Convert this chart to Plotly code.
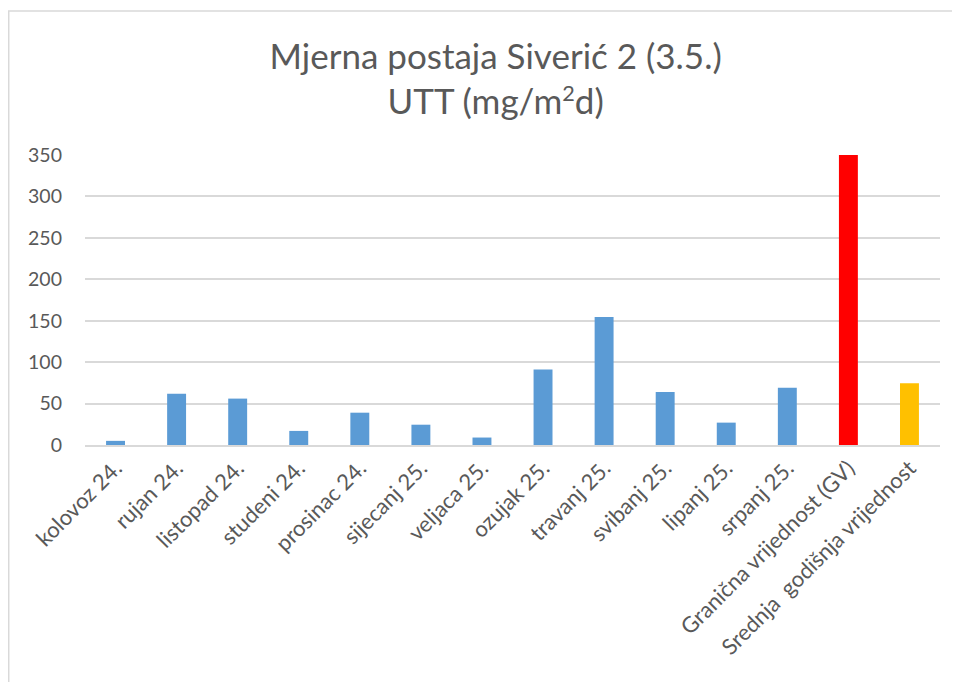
import plotly.graph_objects as go

categories = ["kolovoz 24.", "rujan 24.", "listopad 24.", "studeni 24.", "prosinac 24.",
              "sijecanj 25.", "veljaca 25.", "ozujak 25.", "travanj 25.", "svibanj 25.",
              "lipanj 25.", "srpanj 25.", "Granična vrijednost (GV)", "Srednja  godišnja vrijednost"]
values = [5, 62, 56, 17, 39, 24.5, 9, 91, 154.5, 64, 27, 69, 350, 74.5]
bar_colors = ["#5B9BD5"] * 12 + ["#FF0000", "#FFC000"]
y_ticks = [0, 50, 100, 150, 200, 250, 300, 350]

fig = go.Figure(go.Bar(x=categories, y=values, marker=dict(color=bar_colors, line=dict(width=0)),
                       width=0.31))

fig.update_layout(
    width=960, height=682,
    margin=dict(l=77, r=28, t=147, b=245),
    paper_bgcolor="white", plot_bgcolor="white",
    font=dict(family="Lato, Calibri, sans-serif", color="#595959"),
    title=dict(text="Mjerna postaja Siverić 2 (3.5.)<br>UTT (mg/m<span style='font-size:31px'><sup>2</sup></span>d)",
               x=0.508, xanchor="center", y=0.911, yanchor="middle",
               font=dict(size=35, color="#595959", family="Lato, sans-serif")),
    showlegend=False,
    bargap=0.69,
)
fig.update_xaxes(tickangle=-45, tickfont=dict(size=22, color="#595959"),
                 showgrid=False, showline=True, linecolor="#D9D9D9", linewidth=1.5,
                 ticks="", range=[-0.5, 13.5])
fig.update_yaxes(range=[0, 350], tickvals=y_ticks, tickfont=dict(size=19.5, color="#595959"),
                 showgrid=True, gridcolor="#D9D9D9", gridwidth=1.5, zeroline=False,
                 showline=False, ticks="", ticklabelstandoff=22)

# outer chart border (top and left edges)
fig.add_shape(type="line", xref="paper", yref="paper", x0=-0.0901, x1=1.04, y0=1.4966, y1=1.4966,
              line=dict(color="#D9D9D9", width=1.5))
fig.add_shape(type="line", xref="paper", yref="paper", x0=-0.0892, x1=-0.0892, y0=1.4966, y1=-0.85,
              line=dict(color="#D9D9D9", width=1.5))

fig.write_html("out.html")
